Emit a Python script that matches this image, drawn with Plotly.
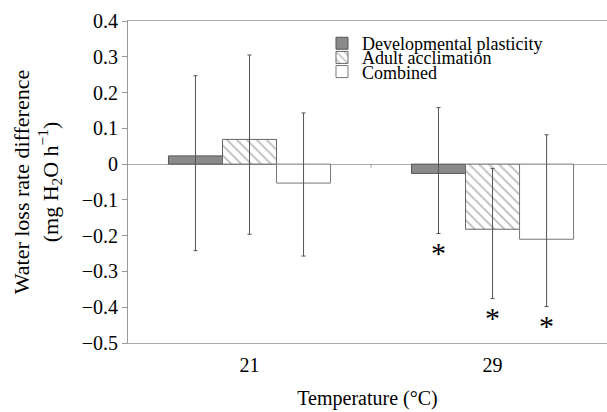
import plotly.graph_objects as go

temperatures = ["21", "29"]
series_names = ["Developmental plasticity", "Adult acclimation", "Combined"]
dev_values = [0.023, -0.026]
adult_values = [0.069, -0.182]
comb_values = [-0.053, -0.210]
dev_upper = [0.247, 0.158]
dev_lower = [-0.242, -0.194]
adult_upper = [0.305, -0.012]
adult_lower = [-0.196, -0.376]
comb_upper = [0.143, 0.082]
comb_lower = [-0.257, -0.398]
# significance markers: (series index, category index)
significant = [(0, 1), (1, 1), (2, 1)]

FONT = "'Liberation Serif', 'Times New Roman', Times, serif"
BARGAP = 0.333

fig = go.Figure()

styles = [
    dict(color="#8a8a8a", line=dict(color="#555555", width=1)),
    dict(color="white", line=dict(color="#666666", width=1),
         pattern=dict(shape="\\", fgcolor="#777777", bgcolor="white", size=7, solidity=0.25)),
    dict(color="white", line=dict(color="#777777", width=1)),
]
values = [dev_values, adult_values, comb_values]
uppers = [dev_upper, adult_upper, comb_upper]
lowers = [dev_lower, adult_lower, comb_lower]
legend_ids = ["legend", "legend2", "legend3"]

for i, name in enumerate(series_names):
    v = values[i]
    fig.add_trace(go.Bar(
        x=temperatures, y=v, name=name, marker=styles[i],
        legend=legend_ids[i],
        error_y=dict(type="data", symmetric=False,
                     array=[u - val for u, val in zip(uppers[i], v)],
                     arrayminus=[val - lo for lo, val in zip(lowers[i], v)],
                     color="#555555", thickness=1, width=2),
    ))

bar_w = (1 - BARGAP) / len(series_names)
for s, c in significant:
    fig.add_annotation(
        x=c + (s - 1) * bar_w, y=lowers[s][c], xref="x", yref="y",
        text="*", showarrow=False, yanchor="top", yshift=0,
        font=dict(family=FONT, size=30, color="black"),
    )

# category boundary tick on the zero line
fig.add_shape(type="line", xref="x", yref="y", x0=0.5, x1=0.5, y0=0, y1=-0.01,
              line=dict(color="#999999", width=1))

leg_common = dict(xanchor="left", yanchor="middle", x=0.405,
                  bgcolor="rgba(0,0,0,0)", font=dict(family=FONT, size=18, color="black"),
                  itemwidth=30, tracegroupgap=0)

fig.update_layout(
    width=607, height=412,
    margin=dict(l=128, r=0, t=21, b=69, autoexpand=False),
    plot_bgcolor="white", paper_bgcolor="white",
    barmode="group", bargap=BARGAP, bargroupgap=0,
    font=dict(family=FONT, size=20, color="black"),
    showlegend=True,
    legend=dict(y=0.93, **leg_common),
    legend2=dict(y=0.886, **leg_common),
    legend3=dict(y=0.842, **leg_common),
    xaxis=dict(type="category", categoryorder="array", categoryarray=temperatures,
               range=[-0.5, 1.471], showline=True, mirror=True, linecolor="#aaaaaa",
               ticks="", showgrid=False, tickfont=dict(size=20), automargin=False,
               ticklabelstandoff=4,
               title=dict(text="Temperature (°C)", font=dict(size=20), standoff=15)),
    yaxis=dict(range=[-0.5, 0.4], dtick=0.1, tick0=0, showline=True, linecolor="#999999",
               ticks="outside", ticklen=5, tickcolor="#999999", showgrid=False,
               zeroline=True, zerolinecolor="#aaaaaa", zerolinewidth=1,
               tickfont=dict(size=20), automargin=False,
               title=dict(text="Water loss rate difference<br>(mg H<sub>2</sub>O h<sup>−1</sup>)",
                          font=dict(size=22), standoff=17)),
)

fig.write_html("out.html", config={"displayModeBar": False},
               post_script="document.body.style.margin='0';")
